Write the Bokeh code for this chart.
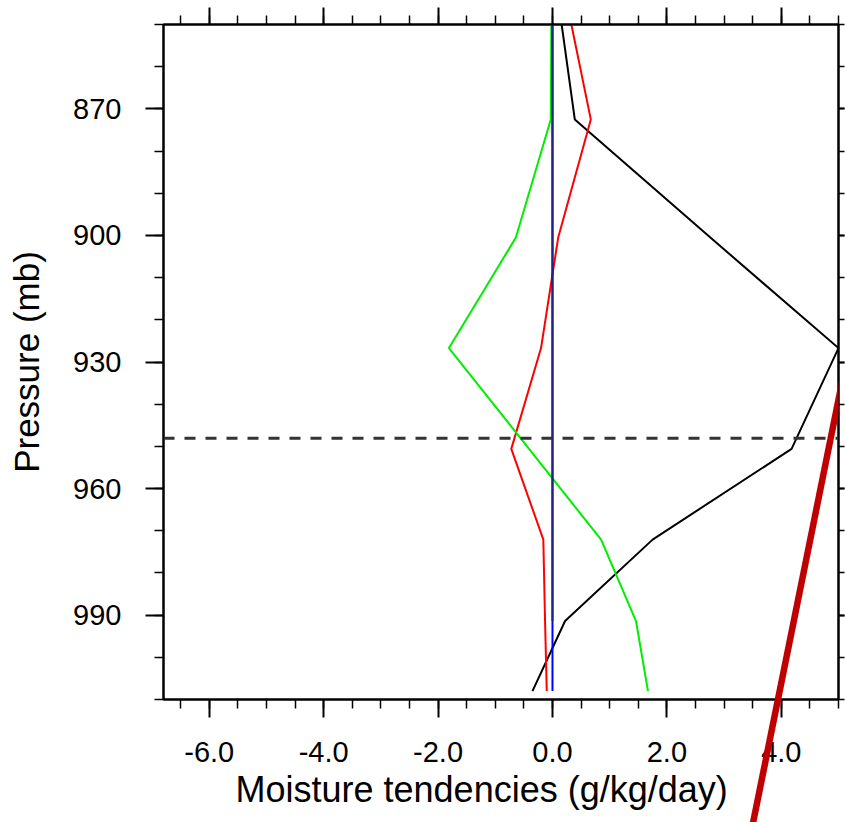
from bokeh.plotting import figure
from bokeh.layouts import column
from bokeh.models import (Range1d, LinearAxis, SingleIntervalTicker, NumeralTickFormatter,
                          CustomJSTickFormatter, Span, Title)
from bokeh.embed import file_html
from bokeh.resources import INLINE

# ---- data ----
levels = [850.0, 872.5, 900.5, 926.7, 950.6, 972.1, 991.4, 1008.0]
black_vals = [0.16, 0.39, 2.76, 5.00, 4.18, 1.75, 0.22, -0.35]
red_vals = [0.33, 0.67, 0.10, -0.20, -0.72, -0.16, -0.13, -0.10]
green_vals = [-0.02, -0.03, -0.64, -1.81, -0.41, 0.85, 1.46, 1.67]
blue_vals = [0.0, 0.0, 0.0, 0.0, 0.0, 0.0, 0.0, 0.0]
navy_levels = [850.0, 872.5, 900.5, 926.7, 950.6, 972.1, 991.4]
navy_vals = [0.0, 0.0, 0.0, 0.0, 0.0, 0.0, 0.0]
pbl_level = 948.1
arrow_x = [3.505, 5.20]
arrow_y = [1039.3, 925.5]

x_range = (-6.8, 5.0)
y_range = (1010, 850)

x_title = "Moisture tendencies (g/kg/day)"
y_title = "Pressure (mb)"

FONT = "Liberation Sans"
W, H = 845, 822
BL, BR, BT, BB = 163, 7, 24, 123

p = figure(width=W, height=H, output_backend="svg", toolbar_location=None,
           x_range=Range1d(*x_range), y_range=Range1d(*y_range),
           min_border_left=BL, min_border_right=BR, min_border_top=BT, min_border_bottom=BB)
p.background_fill_color = "white"
p.border_fill_color = "white"
p.outline_line_color = "black"
p.outline_line_width = 2
p.xgrid.visible = False
p.ygrid.visible = False

xt = SingleIntervalTicker(interval=2, num_minor_ticks=4)
yt = SingleIntervalTicker(interval=30, num_minor_ticks=3)

def style(ax, ticker, labels=True, tick_out=18, minor_out=9):
    ax.ticker = ticker
    ax.axis_line_width = 2
    ax.axis_line_color = "black"
    ax.major_tick_line_width = 2
    ax.minor_tick_line_width = 1.5
    ax.major_tick_out = tick_out
    ax.major_tick_in = 0
    ax.minor_tick_out = minor_out
    ax.minor_tick_in = 0
    ax.major_label_text_font = FONT
    ax.axis_label_text_font = FONT
    ax.axis_label_text_font_style = "normal"
    ax.axis_label_text_color = "black"
    ax.major_label_text_color = "black"
    if labels:
        ax.major_label_text_font_size = "29px"
    else:
        ax.formatter = CustomJSTickFormatter(code="return ''")
        ax.major_label_text_font_size = "1px"
        ax.major_label_standoff = 0

xa = p.xaxis[0]
style(xa, xt)
xa.formatter = NumeralTickFormatter(format="0.0")
xa.major_label_standoff = 24

ya = p.yaxis[0]
style(ya, yt)
ya.major_label_standoff = 24
ya.major_label_orientation = "horizontal"
ya.axis_label = y_title
ya.axis_label_text_font_size = "35px"
ya.axis_label_standoff = 24

top = LinearAxis()
style(top, SingleIntervalTicker(interval=2, num_minor_ticks=4), labels=False, tick_out=17, minor_out=9)
p.add_layout(top, "above")

right = LinearAxis()
style(right, SingleIntervalTicker(interval=30, num_minor_ticks=3), labels=False, tick_out=6, minor_out=6)
p.add_layout(right, "right")

# x-axis title (slightly left of centre in the reference)
p.add_layout(Title(text=x_title, align="left", offset=72, vertical_align="top", standoff=8,
                   text_font=FONT, text_font_size="36px", text_font_style="normal",
                   text_color="black"), "below")

p.line(black_vals, levels, line_color="black", line_width=2)
p.line(red_vals, levels, line_color="#ff0000", line_width=2)
p.line(green_vals, levels, line_color="#00ee00", line_width=2)
p.line(blue_vals, levels, line_color="#0000ff", line_width=2)
p.line(navy_vals, navy_levels, line_color="#22228a", line_width=2)

p.add_layout(Span(location=pbl_level, dimension="width", line_color="#333333",
                  line_width=3, line_dash="11 10"))

# ---- transparent overlay figure for the hand-drawn red stroke, which runs
# below the plot frame. The column aligns its frame horizontally with the main
# frame, so it shares the x range; vertically it spans the whole canvas.
fh = H - BT - BB
ppy = fh / abs(y_range[0] - y_range[1])
oy = Range1d(y_range[0] + BB / ppy, y_range[1] - BT / ppy)
ov = figure(width=W, height=H, output_backend="svg", toolbar_location=None,
            x_range=Range1d(*x_range), y_range=oy,
            x_axis_location=None, y_axis_location=None,
            min_border=0, min_border_left=0, min_border_right=0,
            min_border_top=0, min_border_bottom=0,
            styles={"position": "absolute", "top": "0px", "left": "0px"})
ov.title.visible = False
ov.background_fill_color = None
ov.border_fill_color = None
ov.outline_line_color = None
ov.xgrid.visible = False
ov.ygrid.visible = False
ov.line(arrow_x, arrow_y, line_color="#c00000", line_width=6.5)

layout = column(p, ov, styles={"position": "relative"})

open("out.html", "w").write(file_html(layout, INLINE))
